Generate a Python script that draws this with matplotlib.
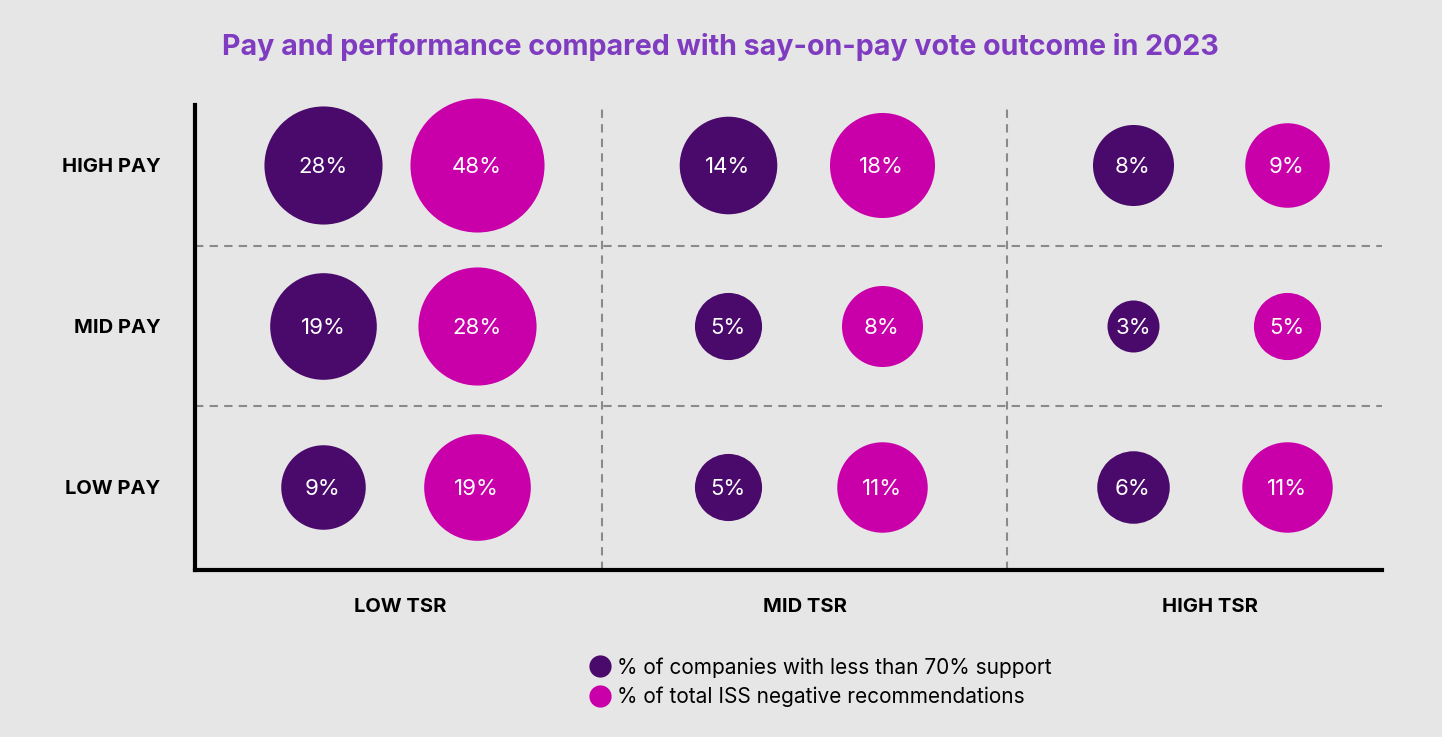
import numpy as np
import matplotlib.pyplot as plt
from matplotlib.lines import Line2D

# data
tsr_labels = ['LOW TSR', 'MID TSR', 'HIGH TSR']
pay_labels = ['LOW PAY', 'MID PAY', 'HIGH PAY']
# rows: LOW, MID, HIGH pay ; cols: LOW, MID, HIGH tsr
low_support = [[9, 5, 6],
               [19, 5, 3],
               [28, 14, 8]]
iss_negative = [[19, 11, 11],
                [28, 8, 5],
                [48, 18, 9]]
series_names = ['% of companies with less than 70% support',
                '% of total ISS negative recommendations']

PURPLE = '#4a0a6b'
MAGENTA = '#c900a9'
BG = '#e6e6e6'
DPI = 100

def marker_area(v):
    # bubble radius in pixels grows with log of the value
    r = 26 + 14.8 * np.log(np.asarray(v, dtype=float) / 3)
    return (2 * r * 72 / DPI) ** 2

plt.rcParams['font.family'] = ['Inter', 'DejaVu Sans']

fig = plt.figure(figsize=(14.42, 7.37), dpi=DPI, facecolor=BG)
W, H = 1442, 737
ax = fig.add_axes([195 / W, (H - 570) / H, (1382 - 195) / W, (570 - 105) / H])
ax.set_facecolor(BG)

ax.set_xlim(-0.506, 2.425)
ax.set_ylim(-0.516, 2.373)

for s in ['top', 'right']:
    ax.spines[s].set_visible(False)
for s in ['left', 'bottom']:
    ax.spines[s].set_linewidth(3)
    ax.spines[s].set_color('black')

# dashed dividers
for b in [0.5, 1.5]:
    ax.axvline(b, color='#8a8a8a', ls=(0, (4, 3)), lw=1.5, zorder=1)
    ax.axhline(b, color='#8a8a8a', ls=(0, (4, 3)), lw=1.5, zorder=1)

off = 0.19
for row in range(3):
    for col in range(3):
        for vals, dx, c in [(low_support, -off, PURPLE), (iss_negative, off, MAGENTA)]:
            v = vals[row][col]
            ax.scatter(col + dx, row, s=marker_area(v), color=c, lw=0, zorder=3, clip_on=False)
            ax.text(col + dx, row - 0.01, f'{v}%', color='white', ha='center', va='center',
                    fontsize=16, zorder=4)

ax.set_xticks([0, 1, 2], tsr_labels, fontsize=14.5, fontweight='bold')
ax.set_yticks([0, 1, 2], pay_labels, fontsize=14.5, fontweight='bold')
ax.tick_params(axis='x', length=0, pad=20)
ax.tick_params(axis='y', length=0, pad=25)

fig.text(222 / W, 1 - 47 / H, 'Pay and performance compared with say-on-pay vote outcome in 2023',
         color='#7f3cc0', fontsize=20.6, fontweight='bold', va='center', ha='left')

handles = [Line2D([], [], marker='o', ls='', ms=16, color=PURPLE, mec='none'),
           Line2D([], [], marker='o', ls='', ms=16, color=MAGENTA, mec='none')]
fig.legend(handles, series_names, loc='upper left', bbox_to_anchor=(589 / W, 1 - 657 / H),
           frameon=False, fontsize=15, handletextpad=0.25, labelspacing=0.45,
           handlelength=1.1, borderaxespad=0, borderpad=0)

fig.savefig('out.png', dpi=DPI, facecolor=BG)
